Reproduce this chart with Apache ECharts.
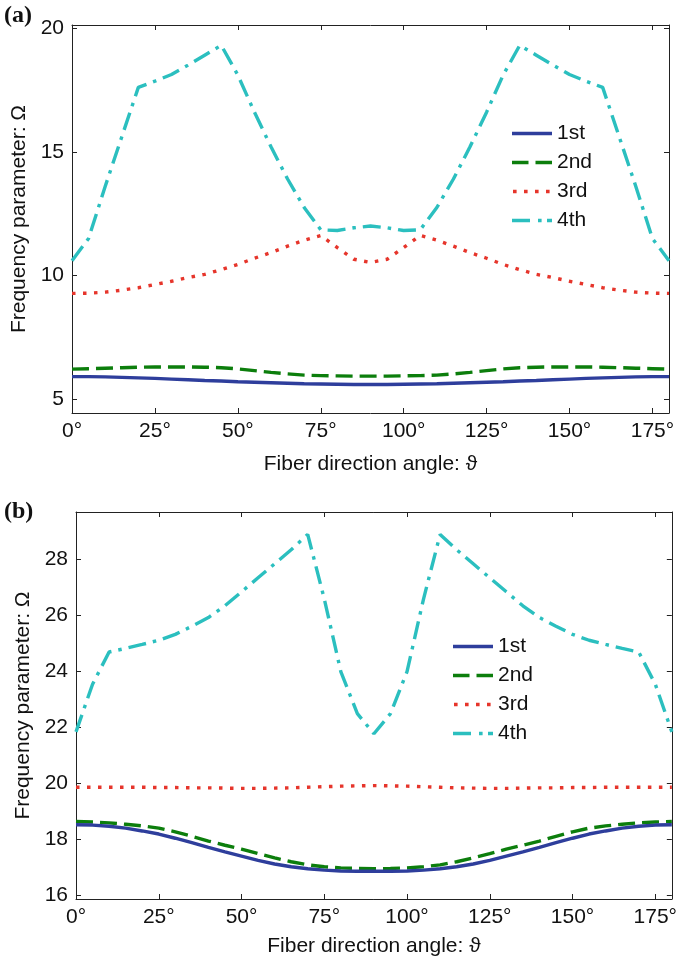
<!DOCTYPE html>
<html><head><meta charset="utf-8">
<script src="https://cdn.jsdelivr.net/npm/echarts@6/dist/echarts.min.js"></script>
<style>html,body{margin:0;padding:0;background:#fff}#c{width:680px;height:961px}</style>
</head><body><div id="c"></div>
<script>
// Fiber direction angle (deg)
const angles = [0,5,10,15,20,25,30,35,40,45,50,55,60,65,70,75,80,85,90,95,100,105,110,115,120,125,130,135,140,145,150,155,160,165,170,175,180];
const xTicks = [0,25,50,75,100,125,150,175];
const seriesNames = ['1st','2nd','3rd','4th'];

// Panel (a)
const a1 = [5.92,5.92,5.91,5.89,5.87,5.85,5.82,5.79,5.76,5.74,5.71,5.69,5.67,5.65,5.63,5.62,5.61,5.60,5.60,5.60,5.61,5.62,5.63,5.65,5.67,5.69,5.71,5.74,5.76,5.79,5.82,5.85,5.87,5.89,5.91,5.92,5.92];
const a2 = [6.22,6.24,6.26,6.28,6.30,6.31,6.31,6.31,6.30,6.28,6.23,6.16,6.09,6.03,5.98,5.96,5.95,5.94,5.94,5.94,5.95,5.96,5.98,6.03,6.09,6.16,6.23,6.28,6.30,6.31,6.31,6.31,6.30,6.28,6.26,6.24,6.22];
const a3 = [9.28,9.29,9.33,9.41,9.51,9.64,9.77,9.92,10.05,10.24,10.45,10.70,10.93,11.19,11.43,11.62,11.13,10.66,10.53,10.66,11.13,11.62,11.43,11.19,10.93,10.70,10.45,10.24,10.05,9.92,9.77,9.64,9.51,9.41,9.33,9.29,9.28];
const a4 = [10.6,11.5,13.6,15.6,17.6,17.85,18.12,18.5,18.9,19.3,18.1,16.6,15.2,13.9,12.75,11.85,11.82,11.93,12.0,11.93,11.82,11.85,12.75,13.9,15.2,16.6,18.1,19.3,18.9,18.5,18.12,17.85,17.6,15.6,13.6,11.5,10.6];
const aYTicks = [5,10,15,20];

// Panel (b)
const b1 = [18.53,18.52,18.48,18.41,18.31,18.20,18.05,17.89,17.72,17.56,17.41,17.26,17.13,17.03,16.96,16.91,16.88,16.87,16.87,16.87,16.88,16.91,16.96,17.03,17.13,17.26,17.41,17.56,17.72,17.89,18.05,18.20,18.31,18.41,18.48,18.52,18.53];
const b2 = [18.65,18.63,18.60,18.55,18.49,18.41,18.28,18.12,17.95,17.80,17.66,17.50,17.35,17.21,17.10,17.03,16.99,16.97,16.96,16.97,16.99,17.03,17.10,17.21,17.35,17.50,17.66,17.80,17.95,18.12,18.28,18.41,18.49,18.55,18.60,18.63,18.65];
const b3 = [19.87,19.87,19.87,19.87,19.87,19.86,19.86,19.85,19.85,19.84,19.83,19.83,19.84,19.85,19.87,19.89,19.91,19.92,19.93,19.92,19.91,19.89,19.87,19.85,19.84,19.83,19.83,19.84,19.85,19.85,19.86,19.86,19.87,19.87,19.87,19.87,19.87];
const b4 = [21.85,23.55,24.7,24.83,24.97,25.12,25.33,25.62,25.93,26.35,26.85,27.35,27.85,28.35,28.9,26.6,24.0,22.5,21.78,22.5,24.0,26.6,28.9,28.35,27.85,27.35,26.85,26.35,25.93,25.62,25.33,25.12,24.97,24.83,24.7,23.55,21.85];
const bYTicks = [16,18,20,22,24,26,28];

const colors = ['#2E3E9C','#0C7E0C','#E6352B','#2BBFBF'];
const dashes = ['solid',[17,7],[3.5,7.5],[18,7,3.5,7]];
// legend icons in a 40x14 box (tiny corner marks fix the box)
const BOX = 'M0,0h0.01v0.01h-0.01zM39.99,13.99h0.01v0.01h-0.01z';
const icons = [
  'path://' + BOX + 'M0,5.3h40v3.4h-40z',
  'path://' + BOX + 'M0,5.3h16.5v3.4h-16.5zM23.5,5.3h16.5v3.4h-16.5z',
  'path://' + BOX + 'M1,5.2h3.6v3.6h-3.6zM12,5.2h3.6v3.6h-3.6zM23,5.2h3.6v3.6h-3.6zM34,5.2h3.6v3.6h-3.6z',
  'path://' + BOX + 'M0,5.3h18v3.4h-18zM26,5.3h3.6v3.4h-3.6zM35,5.3h5v3.4h-5z'
];
const FONT = '"Liberation Sans", Arial, Helvetica, sans-serif';
const FS = 21;
const AX = '#222';

function isTick(v, list){ return list.some(t => Math.abs(t - v) < 1e-6); }

function xAxis(gi, pos, labels, gap){
  return {
    type:'value', gridIndex:gi, position:pos, min:0, max:180, interval:25,
    axisLine:{show:true, onZero:false, lineStyle:{color:AX, width:1}},
    axisTick:{show:true, inside:true, length:5, lineStyle:{color:AX, width:1}},
    axisLabel:{show:labels, fontSize:FS, color:'#111', fontFamily:FONT, margin:8,
      formatter: v => isTick(v, xTicks) ? v + '°' : ''},
    splitLine:{show:false},
    name: labels ? 'Fiber direction angle: ϑ' : '',
    nameLocation:'middle', nameGap:gap,
    nameTextStyle:{fontSize:FS, color:'#111', fontFamily:FONT}
  };
}
function yAxis(gi, pos, labels, min, max, split, ticks){
  return {
    type:'value', gridIndex:gi, position:pos, min:min, max:max, splitNumber:split,
    axisLine:{show:true, onZero:false, lineStyle:{color:AX, width:1}},
    axisTick:{show:true, inside:true, length:5, lineStyle:{color:AX, width:1}},
    axisLabel:{show:labels, fontSize:FS, color:'#111', fontFamily:FONT, margin:8,
      formatter: v => isTick(v, ticks) ? String(Math.round(v)) : ''},
    splitLine:{show:false},
    name: labels ? 'Frequency parameter: Ω' : '',
    nameLocation:'middle', nameGap:40,
    nameTextStyle:{fontSize:FS, color:'#111', fontFamily:FONT}
  };
}
function mkSeries(idx, vals, k){
  return {
    type:'line', name:seriesNames[k], xAxisIndex:idx*2, yAxisIndex:idx*2,
    data: angles.map((a,i)=>[a, vals[i]]),
    symbol:'none', smooth:false, clip:true,
    lineStyle:{color:colors[k], width:3.4, type:dashes[k], cap:'butt'},
    itemStyle:{color:colors[k]},
    z: 10 - k
  };
}
function legend(left, top){
  return {
    data: seriesNames.map((n,k)=>({name:n, icon:icons[k], itemStyle:{color:colors[k], borderWidth:0}})),
    orient:'vertical', left:left, top:top, padding:0,
    itemWidth:40, itemHeight:14, itemGap:8, selectedMode:false,
    textStyle:{fontSize:FS, color:'#111', fontFamily:FONT}
  };
}

const chart = echarts.init(document.getElementById('c'), null, {renderer:'canvas'});
chart.setOption({
  animation:false,
  backgroundColor:'#fff',
  grid:[
    {left:72, top:25, width:597, height:388},
    {left:76, top:512, width:603, height:387}
  ],
  xAxis:[ xAxis(0,'bottom',true,41), xAxis(0,'top',false,0), xAxis(1,'bottom',true,37), xAxis(1,'top',false,0) ],
  yAxis:[
    yAxis(0,'left',true,4.45,20.12,3,aYTicks), yAxis(0,'right',false,4.45,20.12,3,aYTicks),
    yAxis(1,'left',true,15.88,29.7,7,bYTicks), yAxis(1,'right',false,15.88,29.7,7,bYTicks)
  ],
  legend:[ legend(512,123), legend(453,636) ],
  graphic:[
    {type:'text', left:4, top:4, style:{text:'(a)', font:'bold 24px "Liberation Serif", "Times New Roman", serif', fill:'#111'}},
    {type:'text', left:4, top:500, style:{text:'(b)', font:'bold 24px "Liberation Serif", "Times New Roman", serif', fill:'#111'}}
  ],
  series:[
    mkSeries(0,a1,0), mkSeries(0,a2,1), mkSeries(0,a3,2), mkSeries(0,a4,3),
    mkSeries(1,b1,0), mkSeries(1,b2,1), mkSeries(1,b3,2), mkSeries(1,b4,3)
  ]
});
</script></body></html>
